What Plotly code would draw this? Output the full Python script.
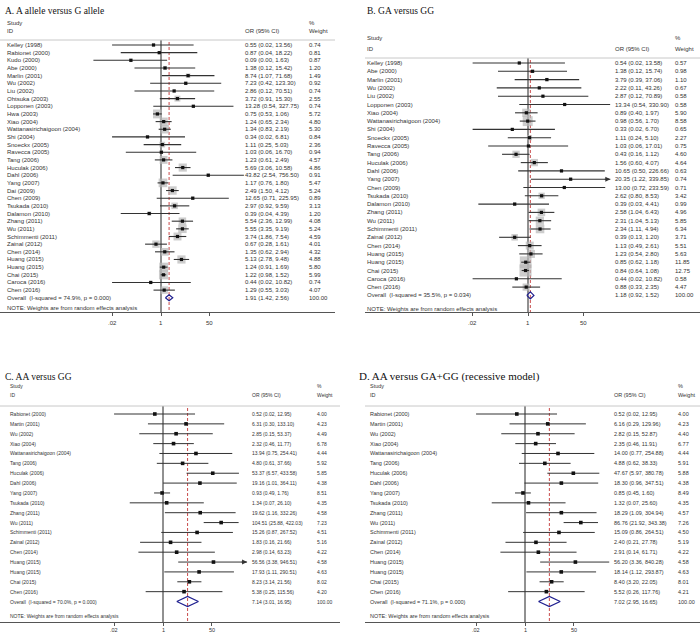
import math
import plotly.graph_objects as go

W, H = 700, 638

# ---------------- Panel A: A allele versus G allele ----------------
a_title = "A. A allele versus G allele"
a_studies = ["Kelley (1998)", "Rabionet (2000)", "Kudo (2000)", "Abe (2000)", "Marlin (2001)",
             "Wu (2002)", "Liu (2002)", "Ohtsuka (2003)", "Lopponen (2003)", "Hwa (2003)",
             "Xiao (2004)", "Wattanasirichaigoon (2004)", "Shi (2004)", "Snoeckx (2005)",
             "Ravecca (2005)", "Tang (2006)", "Huculak (2006)", "Dahl (2006)", "Yang (2007)",
             "Dai (2009)", "Chen (2009)", "Tsukada (2010)", "Dalamon (2010)", "Zhang (2011)",
             "Wu (2011)", "Schimmenti (2011)", "Zainal (2012)", "Chen (2014)", "Huang (2015)",
             "Huang (2015)", "Chai (2015)", "Caroca (2016)", "Chen (2016)"]
a_or = [0.55, 0.87, 0.09, 1.38, 8.74, 7.23, 2.86, 3.72, 13.28, 0.75, 1.24, 1.34, 0.34, 1.11,
        1.03, 1.23, 5.69, 43.82, 1.17, 2.49, 12.65, 2.97, 0.39, 5.54, 5.55, 3.74, 0.67, 1.35,
        5.13, 1.24, 1.22, 0.44, 1.29]
a_lo = [0.02, 0.04, 0.0045, 0.12, 1.07, 0.42, 0.12, 0.91, 0.54, 0.53, 0.65, 0.83, 0.02, 0.25,
        0.06, 0.61, 3.06, 2.54, 0.76, 1.50, 0.71, 0.92, 0.04, 2.36, 3.35, 1.86, 0.28, 0.62,
        2.78, 0.91, 0.98, 0.02, 0.55]
a_hi = [13.56, 18.22, 1.63, 15.42, 71.68, 123.30, 70.51, 15.30, 327.75, 1.06, 2.34, 2.19, 6.81,
        5.03, 16.70, 2.49, 10.58, 756.50, 1.80, 4.12, 225.95, 9.59, 4.39, 12.99, 9.19, 7.54,
        1.61, 2.94, 9.48, 1.69, 1.52, 10.82, 3.03]
a_wt = [0.74, 0.81, 0.87, 1.20, 1.49, 0.92, 0.74, 2.55, 0.74, 5.72, 4.80, 5.30, 0.84, 2.36,
        0.94, 4.57, 4.86, 0.91, 5.47, 5.24, 0.89, 3.13, 1.20, 4.08, 5.24, 4.59, 4.01, 4.32,
        4.88, 5.80, 5.99, 0.74, 4.07]
a_overall = [1.91, 1.42, 2.56]
a_het = "Overall  (I-squared = 74.9%, p = 0.000)"

# ---------------- Panel B: GA versus GG ----------------
b_title = "B. GA versus GG"
b_studies = ["Kelley (1998)", "Abe (2000)", "Marlin (2001)", "Wu (2002)", "Liu (2002)",
             "Lopponen (2003)", "Xiao (2004)", "Wattanasirichaigoon (2004)", "Shi (2004)",
             "Snoeckx (2005)", "Ravecca (2005)", "Tang (2006)", "Huculak (2006)", "Dahl (2006)",
             "Yang (2007)", "Chen (2009)", "Tsukada (2010)", "Dalamon (2010)", "Zhang (2011)",
             "Wu (2011)", "Schimmenti (2011)", "Zainal (2012)", "Chen (2014)", "Huang (2015)",
             "Huang (2015)", "Chai (2015)", "Caroca (2016)", "Chen (2016)"]
b_or = [0.54, 1.38, 3.79, 2.22, 2.87, 13.34, 0.89, 0.98, 0.33, 1.11, 1.03, 0.43, 1.56, 10.65,
        20.35, 13.00, 2.62, 0.39, 2.58, 2.31, 2.34, 0.39, 1.13, 1.23, 0.85, 0.84, 0.44, 0.88]
b_lo = [0.02, 0.12, 0.39, 0.11, 0.12, 0.54, 0.40, 0.56, 0.02, 0.24, 0.06, 0.16, 0.60, 0.50,
        1.22, 0.72, 0.80, 0.03, 1.04, 1.04, 1.11, 0.13, 0.49, 0.54, 0.62, 0.64, 0.02, 0.33]
b_hi = [13.58, 15.74, 37.06, 43.26, 70.89, 330.90, 1.97, 1.70, 6.70, 5.10, 17.01, 1.12, 4.07,
        226.66, 339.85, 233.59, 8.53, 4.41, 6.43, 5.13, 4.94, 1.20, 2.61, 2.80, 1.18, 1.08,
        10.82, 2.35]
b_wt = [0.57, 0.98, 1.10, 0.67, 0.58, 0.58, 5.90, 8.58, 0.65, 2.27, 0.75, 4.60, 4.64, 0.63,
        0.74, 0.71, 3.42, 0.99, 4.96, 5.85, 6.34, 3.71, 5.51, 5.63, 11.85, 12.75, 0.58, 4.47]
b_overall = [1.18, 0.92, 1.52]
b_het = "Overall  (I-squared = 35.5%, p = 0.034)"

# ---------------- Panel C: AA versus GG ----------------
c_title = "C. AA versus GG"
c_studies = ["Rabionet (2000)", "Martin (2001)", "Wu (2002)", "Xiao (2004)",
             "Wattanasirichaigoon (2004)", "Tang (2006)", "Huculak (2006)", "Dahl (2006)",
             "Yang (2007)", "Tsukada (2010)", "Zhang (2011)", "Wu (2011)", "Schimmenti (2011)",
             "Zainal (2012)", "Chen (2014)", "Huang (2015)", "Huang (2015)", "Chai (2015)",
             "Chen (2016)"]
c_or = [0.52, 6.31, 2.85, 2.32, 13.94, 4.80, 53.37, 19.16, 0.93, 1.34, 19.62, 104.51, 15.26,
        1.83, 2.98, 56.56, 17.93, 8.23, 5.38]
c_lo = [0.02, 0.30, 0.15, 0.46, 0.75, 0.61, 6.57, 1.01, 0.49, 0.07, 1.16, 25.88, 0.87, 0.16,
        0.14, 3.38, 1.11, 3.14, 0.25]
c_hi = [12.95, 133.10, 53.37, 11.77, 254.41, 37.66, 433.58, 364.11, 1.76, 26.10, 332.26, 422.03,
        267.52, 21.66, 63.23, 946.51, 290.51, 21.56, 115.56]
c_wt = [4.00, 4.23, 4.49, 6.78, 4.44, 5.92, 5.85, 4.38, 8.51, 4.35, 4.58, 7.23, 4.51, 5.16,
        4.22, 4.58, 4.63, 8.02, 4.20]
c_overall = [7.14, 3.01, 16.95]
c_het = "Overall  (I-squared = 70.0%, p = 0.000)"

# ---------------- Panel D: AA versus GA+GG ----------------
d_title = "D. AA versus GA+GG (recessive model)"
d_studies = list(c_studies)
d_or = [0.52, 6.16, 2.82, 2.35, 14.00, 4.88, 47.67, 18.30, 0.85, 1.32, 18.29, 86.76, 15.09,
        2.40, 2.91, 56.20, 18.14, 8.40, 5.52]
d_lo = [0.02, 0.29, 0.15, 0.46, 0.77, 0.62, 5.97, 0.96, 0.45, 0.07, 1.09, 21.92, 0.86, 0.21,
        0.14, 3.36, 1.12, 3.20, 0.26]
d_hi = [12.95, 129.96, 52.87, 11.91, 254.88, 38.33, 380.78, 347.51, 1.60, 25.60, 304.94, 343.38,
        264.51, 27.78, 61.71, 840.28, 293.87, 22.05, 117.76]
d_wt = [4.00, 4.23, 4.40, 6.77, 4.44, 5.91, 5.88, 4.38, 8.49, 4.35, 4.57, 7.26, 4.50, 5.19,
        4.22, 4.58, 4.63, 8.01, 4.21]
d_overall = [7.02, 2.95, 16.65]
d_het = "Overall  (I-squared = 71.1%, p = 0.000)"

tick_vals = [0.02, 1, 50]
tick_text = [".02", "1", "50"]
note_text = "NOTE: Weights are from random effects analysis"

datasets = [
    dict(title=a_title, studies=a_studies, orv=a_or, lo=a_lo, hi=a_hi, wt=a_wt, ov=a_overall, het=a_het),
    dict(title=b_title, studies=b_studies, orv=b_or, lo=b_lo, hi=b_hi, wt=b_wt, ov=b_overall, het=b_het),
    dict(title=c_title, studies=c_studies, orv=c_or, lo=c_lo, hi=c_hi, wt=c_wt, ov=c_overall, het=c_het),
    dict(title=d_title, studies=d_studies, orv=d_or, lo=d_lo, hi=d_hi, wt=d_wt, ov=d_overall, het=d_het),
]

# geometry / style per panel (pixels)
geoms = [
    dict(title_x=3, title_y=11, title_fs=9.5, one=161, ppd=28.8, ax0=0, ax1=335, axis_y=312,
         sep_y=40, row0=45, step=7.66, hdr1=23, hdr2=31, name_x=5, or_x=243, wt_x=307,
         note_y=308, fs=6, tfs=6, tick_y=323, box_k=3.7, ctr=3.2, dia=3, clip=None, lw=1.1),
    dict(title_x=365, title_y=11, title_fs=9.5, one=528, ppd=32.6, ax0=365, ax1=700, axis_y=312,
         sep_y=58, row0=63, step=8.3, hdr1=38, hdr2=49, name_x=365, or_x=613, wt_x=673,
         note_y=309, fs=6, tfs=6, tick_y=323, box_k=3.4, ctr=3.2, dia=3.5, clip=335, lw=1.1),
    dict(title_x=3, title_y=377, title_fs=9.5, one=163, ppd=28.8, ax0=0, ax1=340, axis_y=622,
         sep_y=406, row0=414, step=9.87, hdr1=386, hdr2=395, name_x=8, or_x=250, wt_x=315,
         note_y=616, fs=5, tfs=5.5, tick_y=630, box_k=0, ctr=3.6, dia=5, clip=830, lw=1),
    dict(title_x=357, title_y=376, title_fs=11, one=525, ppd=28.8, ax0=365, ax1=700, axis_y=622,
         sep_y=406, row0=414, step=9.87, hdr1=386, hdr2=395, name_x=368, or_x=612, wt_x=676,
         note_y=616, fs=5.5, tfs=5.5, tick_y=630, box_k=0, ctr=3.6, dia=5, clip=None, lw=1),
]

SANS = "Liberation Sans, Arial, sans-serif"
SERIF = "Liberation Serif, Times New Roman, serif"
TXT = "#333333"

fig = go.Figure()
annotations = []
shapes = []
layout_axes = {}

for k, (d, g) in enumerate(zip(datasets, geoms), start=1):
    xa = "x" if k == 1 else f"x{k}"
    ya = "y" if k == 1 else f"y{k}"
    xname = "xaxis" if k == 1 else f"xaxis{k}"
    yname = "yaxis" if k == 1 else f"yaxis{k}"
    n = len(d["studies"])

    def row(py, g=g):
        return (py - g["row0"]) / g["step"]

    lo_log = (g["ax0"] - g["one"]) / g["ppd"]
    hi_log = (g["ax1"] - g["one"]) / g["ppd"]
    layout_axes[xname] = dict(
        type="log", range=[lo_log, hi_log], domain=[g["ax0"] / W, g["ax1"] / W], anchor=ya,
        showline=True, linecolor="#555555", linewidth=1, ticks="outside", ticklen=3,
        tickcolor="#555555", tickvals=tick_vals, showticklabels=False, showgrid=False,
        zeroline=False, fixedrange=True)
    layout_axes[yname] = dict(
        range=[row(g["axis_y"]), row(g["sep_y"])],
        domain=[1 - g["axis_y"] / H, 1 - g["sep_y"] / H], anchor=xa, visible=False,
        fixedrange=True)

    # tick labels placed through the x axis scale
    for tv, tt in zip(tick_vals, tick_text):
        annotations.append(dict(x=math.log10(tv), y=1 - g["tick_y"] / H, xref=xa, yref="paper",
                                text=tt, showarrow=False, xanchor="center", yanchor="middle",
                                font=dict(family=SANS, size=g["tfs"], color=TXT)))

    ys = list(range(n))
    # null line and overall dashed line
    fig.add_trace(go.Scatter(x=[1, 1], y=[row(g["sep_y"]), row(g["axis_y"])], mode="lines",
                             line=dict(color="#222222", width=1), xaxis=xa, yaxis=ya,
                             hoverinfo="skip", showlegend=False))
    fig.add_trace(go.Scatter(x=[d["ov"][0], d["ov"][0]], y=[row(g["sep_y"] + 2), row(g["axis_y"])],
                             mode="lines", line=dict(color="#c84a4a", width=1, dash="3px,2px"),
                             xaxis=xa, yaxis=ya, hoverinfo="skip", showlegend=False))
    # grey weight boxes
    if g["box_k"] > 0:
        fig.add_trace(go.Scatter(x=d["orv"], y=ys, mode="markers",
                                 marker=dict(symbol="square", color="#b8b8b8",
                                             size=[g["box_k"] * math.sqrt(w) for w in d["wt"]],
                                             line=dict(width=0)),
                                 xaxis=xa, yaxis=ya, hoverinfo="skip", showlegend=False))
    # CI lines
    cx, cy = [], []
    for i in range(n):
        hi = d["hi"][i]
        if g["clip"] is not None and hi > g["clip"]:
            hi = g["clip"]
            annotations.append(dict(x=math.log10(hi), y=i, xref=xa, yref=ya, text="",
                                    showarrow=True, ax=-7, ay=0, arrowhead=2, arrowsize=1,
                                    arrowwidth=1, arrowcolor="#333333"))
        cx += [d["lo"][i], hi, None]
        cy += [i, i, None]
    fig.add_trace(go.Scatter(x=cx, y=cy, mode="lines", line=dict(color="#333333", width=g["lw"]),
                             xaxis=xa, yaxis=ya, hoverinfo="skip", showlegend=False))
    # point estimates
    fig.add_trace(go.Scatter(x=d["orv"], y=ys, mode="markers",
                             marker=dict(symbol="square", color="#111111", size=g["ctr"],
                                         line=dict(width=0)),
                             xaxis=xa, yaxis=ya, hoverinfo="skip", showlegend=False))
    # overall diamond
    o, ol, oh = d["ov"]
    h = g["dia"] / g["step"]
    fig.add_trace(go.Scatter(x=[ol, o, oh, o, ol], y=[n, n - h, n, n + h, n], mode="lines",
                             line=dict(color="#1f1f8f", width=1.2), xaxis=xa, yaxis=ya,
                             hoverinfo="skip", showlegend=False))

    # text columns
    def txt(x_px, y, s, yref=ya, size=g["fs"]):
        annotations.append(dict(x=x_px / W, y=y, xref="paper", yref=yref, text=s,
                                showarrow=False, xanchor="left", yanchor="middle",
                                font=dict(family=SANS, size=size, color=TXT)))

    for i in range(n):
        txt(g["name_x"], i, d["studies"][i])
        txt(g["or_x"], i, f"{d['orv'][i]:.2f} ({d['lo'][i]:.2f}, {d['hi'][i]:.2f})")
        txt(g["wt_x"], i, f"{d['wt'][i]:.2f}")
    txt(g["name_x"], n, d["het"])
    txt(g["or_x"], n, f"{o:.2f} ({ol:.2f}, {oh:.2f})")
    txt(g["wt_x"], n, "100.00")

    # headers
    txt(g["name_x"], 1 - g["hdr1"] / H, "Study", yref="paper")
    txt(g["name_x"], 1 - g["hdr2"] / H, "ID", yref="paper")
    txt(g["or_x"], 1 - g["hdr2"] / H, "OR (95% CI)", yref="paper")
    txt(g["wt_x"], 1 - g["hdr1"] / H, "%", yref="paper")
    txt(g["wt_x"], 1 - g["hdr2"] / H, "Weight", yref="paper")
    txt(g["name_x"], 1 - g["note_y"] / H, note_text, yref="paper")

    # title
    annotations.append(dict(x=g["title_x"] / W, y=1 - g["title_y"] / H, xref="paper", yref="paper",
                            text=d["title"], showarrow=False, xanchor="left", yanchor="middle",
                            font=dict(family=SERIF, size=g["title_fs"], color="#111111")))
    # separator line
    shapes.append(dict(type="line", xref="paper", yref="paper", x0=g["ax0"] / W, x1=g["ax1"] / W,
                       y0=1 - g["sep_y"] / H, y1=1 - g["sep_y"] / H,
                       line=dict(color="#c8c8c8", width=1)))

fig.update_layout(
    width=W, height=H, margin=dict(l=0, r=0, t=0, b=0),
    paper_bgcolor="white", plot_bgcolor="rgba(0,0,0,0)",
    showlegend=False, annotations=annotations, shapes=shapes,
    **layout_axes)

fig.write_html("out.html", config={"displayModeBar": False},
               post_script="document.body.style.margin='0';document.body.style.overflow='hidden';")
